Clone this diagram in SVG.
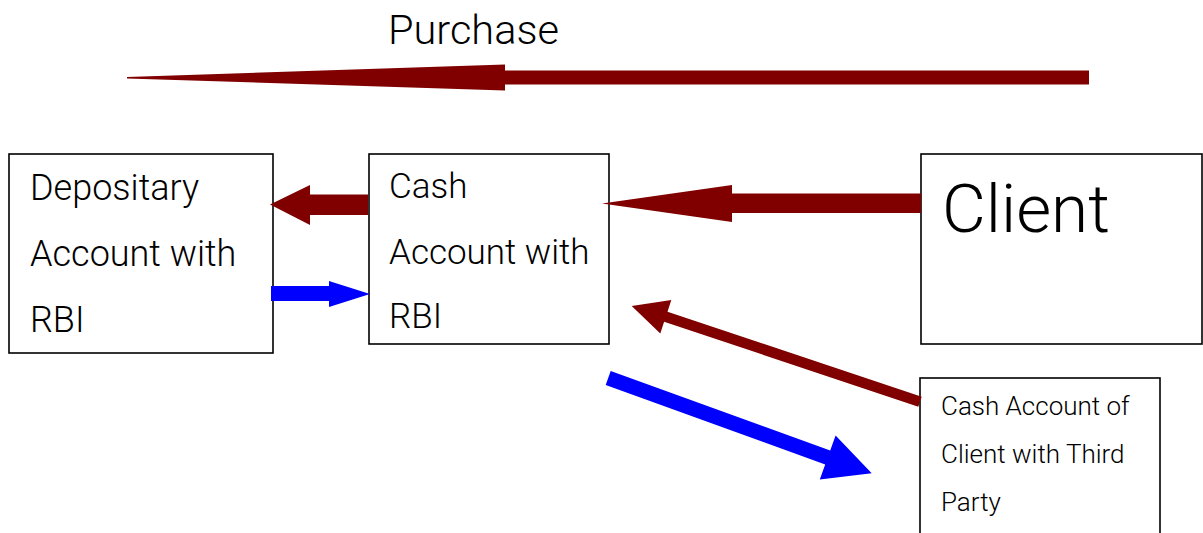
<svg xmlns="http://www.w3.org/2000/svg" width="1203" height="533" viewBox="0 0 1203 533">
<style>
.box{fill:#fff;stroke:#000;stroke-width:1.6}
.t{font-family:Roboto,"Liberation Sans",sans-serif;font-weight:300;fill:#000}
.red{fill:#800000}
.blue{fill:#0000ff}
</style>
<rect width="1203" height="533" fill="#fff"/>
<g id="label-purchase"><text class="t" x="388" y="44" font-size="41.5">Purchase</text></g>
<g id="node-depositary">
<rect class="box" x="9" y="154" width="264" height="199"/>
<text class="t" x="30" y="200" font-size="36">Depositary</text>
<text class="t" x="30" y="266" font-size="36">Account with</text>
<text class="t" x="30" y="332" font-size="36">RBI</text>
</g>
<g id="node-cash-rbi">
<rect class="box" x="369" y="154" width="240" height="190"/>
<text class="t" x="389" y="198" font-size="35">Cash</text>
<text class="t" x="389" y="264" font-size="35">Account with</text>
<text class="t" x="389" y="328" font-size="35">RBI</text>
</g>
<g id="node-client">
<rect class="box" x="921" y="154" width="281" height="190"/>
<text class="t" x="942" y="232" font-size="67.5">Client</text>
</g>
<g id="node-third-party">
<rect class="box" x="920" y="378" width="240" height="170"/>
<text class="t" x="941" y="415" font-size="26">Cash Account of</text>
<text class="t" x="941" y="463" font-size="26">Client with Third</text>
<text class="t" x="941" y="511" font-size="26">Party</text>
</g>
<g id="connectors">
<polygon class="red" points="1089,70.5 505,70.5 505,64.5 127,77 127,78.5 505,90.5 505,84.5 1089,84.5"/>
<polygon class="red" points="368,194.5 310,194.5 310,185 270,204.5 310,225 310,215 368,215"/>
<polygon class="blue" points="271,286 329,286 329,281 370,294 329,307 329,301 271,301"/>
<polygon class="red" points="921,193.5 732,193.5 732,185 602,203.5 732,222 732,213 921,213"/>
<polygon class="red" points="921.7,396.7 667.5,311.7 671.3,300 631.7,306 660.3,333.4 664.1,321.7 918.3,406.7"/>
<polygon class="blue" points="610.7,371 830.2,450.5 835.6,435.6 871.7,473.3 819.8,479.4 825.2,464.5 605.7,385"/>
</g>
</svg>
